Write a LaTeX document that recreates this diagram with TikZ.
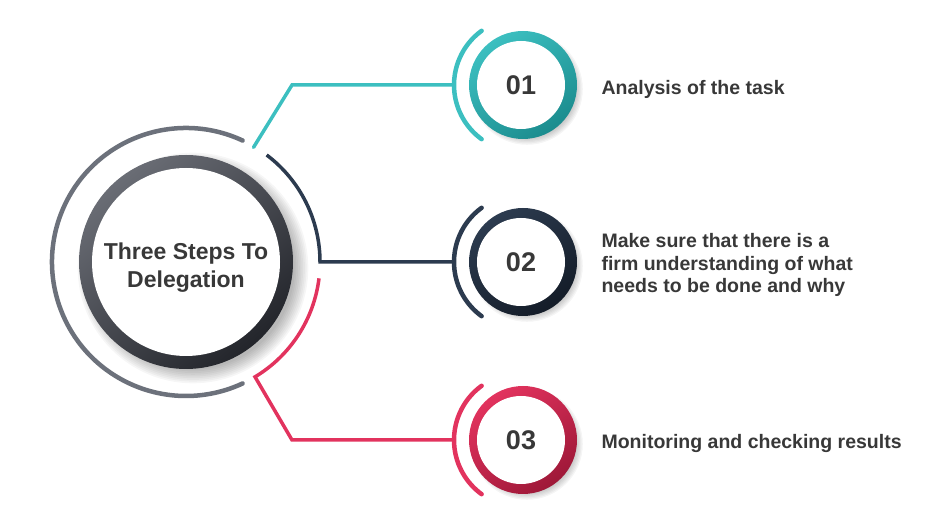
\documentclass[tikz,border=0pt]{standalone}
\usepackage{fontspec}
\setmainfont{Liberation Sans}
\definecolor{tealc}{HTML}{3CBFC0}
\definecolor{tealdk}{HTML}{1B8C8E}
\definecolor{navyc}{HTML}{2C3B4F}
\definecolor{navydk}{HTML}{141C28}
\definecolor{redc}{HTML}{E2335E}
\definecolor{reddk}{HTML}{9E1838}
\definecolor{grayc}{HTML}{6C717B}
\definecolor{hubc}{HTML}{6A6D75}
\definecolor{hubdk}{HTML}{23252B}
\definecolor{txt}{HTML}{383838}
\tikzset{
  ringline/.style={line width=4.5, line cap=round},
  joinline/.style={line width=3.5, line join=miter},
  disc/.style={circle, fill=white, inner sep=0pt, text=txt},
  numtext/.style={font=\bfseries\fontsize{27}{30}\selectfont},
  steptext/.style={anchor=west, align=left, text=txt, font=\bfseries\fontsize{19.5}{22.5}\selectfont}
}
\begin{document}
\begin{tikzpicture}[x=1pt,y=1pt]
    \useasboundingbox (0,0) rectangle (933,524);
    % soft shadows
    \foreach \k in {1,...,9}
      \fill[black, opacity=0.035] (193,256) circle ({100+1.7*\k});
    \foreach \cy in {439,262,84}
      \foreach \k in {1,...,6}
        \fill[black, opacity=0.04] (527,\cy-4) circle ({48+1.3*\k});
    % hub
    \coordinate (hc) at (186,262);
    \shade[shading=axis, top color=hubc, bottom color=hubdk, shading angle=40] (hc) circle (107);
    \fill[white] (hc) circle (94);
    \node[text=txt, align=center, font=\bfseries\fontsize{23}{28}\selectfont] (hub) at (186,256) {Three Steps To\\Delegation};
    \draw[grayc, ringline] ([shift={(65:134)}]hc) arc[start angle=65, end angle=295, radius=134];
    % step rings
    \shade[shading=axis, top color=tealc, bottom color=tealdk, shading angle=35] (523,439) circle (54);
    \node[disc, minimum size=88, numtext] (s1) at (521,439) {01};
    \shade[shading=axis, top color=navyc, bottom color=navydk, shading angle=35] (523,262) circle (54);
    \node[disc, minimum size=88, numtext] (s2) at (521,262) {02};
    \shade[shading=axis, top color=redc, bottom color=reddk, shading angle=35] (523,84) circle (54);
    \node[disc, minimum size=88, numtext] (s3) at (521,84) {03};
    \draw[tealc, ringline] ([shift={(126:67)}]s1.center) arc[start angle=126, end angle=234, radius=67];
    \draw[navyc, ringline] ([shift={(126:67)}]s2.center) arc[start angle=126, end angle=234, radius=67];
    \draw[redc, ringline] ([shift={(126:67)}]s3.center) arc[start angle=126, end angle=234, radius=67];
    % connectors
    \coordinate (k1) at (292,439);
    \coordinate (k3) at (292,84);
    \draw[tealc, joinline, line cap=round] ([shift={(59.5:133)}]hc) -- (k1) -- ([xshift=-67]s1.center);
    \draw[navyc, joinline] ([shift={(53:134)}]hc) arc[start angle=53, end angle=0, radius=134] -- ([xshift=-67]s2.center);
    \draw[redc, joinline] ([shift={(-7:134)}]hc) arc[start angle=-7, end angle=-59, radius=134] -- (k3) -- ([xshift=-67]s3.center);
    % labels
    \node[steptext] (t1) at (598,435) {Analysis of the task};
    \node[steptext] (t2) at (598,259) {Make sure that there is a\\firm understanding of what\\needs to be done and why};
    \node[steptext] (t3) at (598,80) {Monitoring and checking results};
\end{tikzpicture}
\end{document}
